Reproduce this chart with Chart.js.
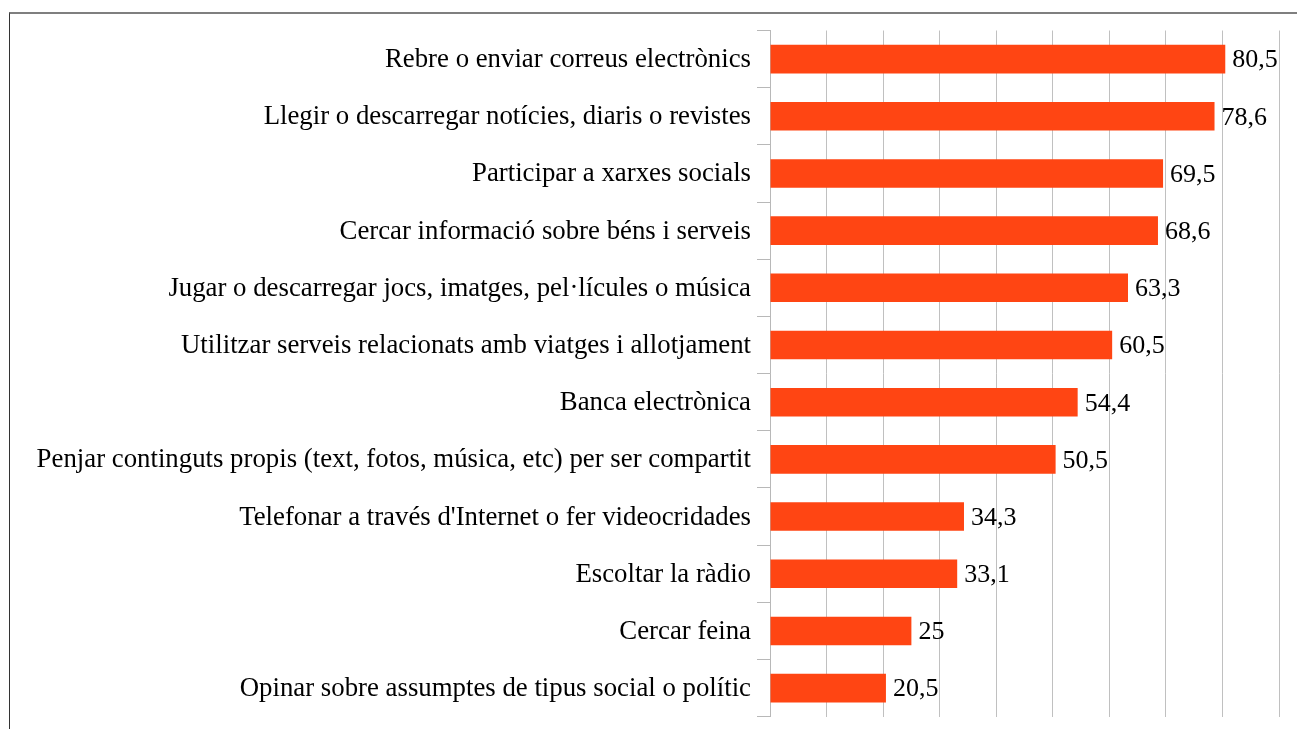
<!DOCTYPE html>
<html>
<head>
<meta charset="utf-8">
<script src="https://cdn.jsdelivr.net/npm/chart.js@4.4.1/dist/chart.umd.min.js"></script>
<style>
  html, body { margin: 0; padding: 0; background: #fff; }
  #wrap { position: relative; width: 1297px; height: 729px; overflow: hidden; }
  #frame { position: absolute; left: 9px; top: 12px; width: 1400px; height: 800px;
           border-top: 2px solid #7f7f7f; border-left: 1px solid #333; box-sizing: border-box; }
  canvas { position: absolute; left: 0; top: 0; }
</style>
</head>
<body>
<div id="wrap">
  <div id="frame"></div>
  <canvas id="c" width="1297" height="729"></canvas>
</div>
<script>
const categories = [
  "Rebre o enviar correus electrònics",
  "Llegir o descarregar notícies, diaris o revistes",
  "Participar a xarxes socials",
  "Cercar informació sobre béns i serveis",
  "Jugar o descarregar jocs, imatges, pel·lícules o música",
  "Utilitzar serveis relacionats amb viatges i allotjament",
  "Banca electrònica",
  "Penjar continguts propis (text, fotos, música, etc) per ser compartit",
  "Telefonar a través d'Internet o fer videocridades",
  "Escoltar la ràdio",
  "Cercar feina",
  "Opinar sobre assumptes de tipus social o polític"
];
const values = [80.5, 78.6, 69.5, 68.6, 63.3, 60.5, 54.4, 50.5, 34.3, 33.1, 25, 20.5];
const xTicks = [0, 10, 20, 30, 40, 50, 60, 70, 80, 90];

const FONT = "'Liberation Serif', 'Times New Roman', serif";

const valueLabels = {
  id: 'valueLabels',
  afterDatasetsDraw(chart) {
    const ctx = chart.ctx;
    const meta = chart.getDatasetMeta(0);
    ctx.save();
    ctx.font = "26px " + FONT;
    ctx.fillStyle = "#000";
    ctx.textAlign = "left";
    ctx.textBaseline = "middle";
    meta.data.forEach((bar, i) => {
      const txt = String(values[i]).replace('.', ',');
      ctx.fillText(txt, bar.x + 7, bar.y + 1.5);
    });
    ctx.restore();
  }
};

new Chart(document.getElementById('c'), {
  type: 'bar',
  data: {
    labels: categories,
    datasets: [{
      data: values,
      backgroundColor: '#ff4513',
      borderWidth: 0,
      barPercentage: 0.5,
      categoryPercentage: 1.0
    }]
  },
  options: {
    indexAxis: 'y',
    responsive: false,
    animation: false,
    layout: { padding: { left: 0, right: 18, top: 30.5, bottom: 12.3 } },
    plugins: { legend: { display: false }, tooltip: { enabled: false } },
    scales: {
      x: {
        min: 0, max: 90,
        afterBuildTicks(scale) { scale.ticks = xTicks.map(v => ({ value: v })); },
        afterFit(scale) { scale.height = 0; },
        ticks: { display: false },
        grid: { color: '#c0c0c0', lineWidth: 1, drawTicks: false },
        border: { display: false }
      },
      y: {
        afterFit(scale) { scale.width = 770; scale.paddingTop = 0; scale.paddingBottom = 0; },
        ticks: {
          color: '#000',
          font: { family: FONT, size: 26.8 },
          padding: 6,
          labelOffset: 1
        },
        grid: { drawOnChartArea: false, drawTicks: true, tickLength: 13, color: '#b8b8b8', offset: true },
        border: { display: true, color: '#b8b8b8', width: 1 }
      }
    }
  },
  plugins: [valueLabels]
});
</script>
</body>
</html>
